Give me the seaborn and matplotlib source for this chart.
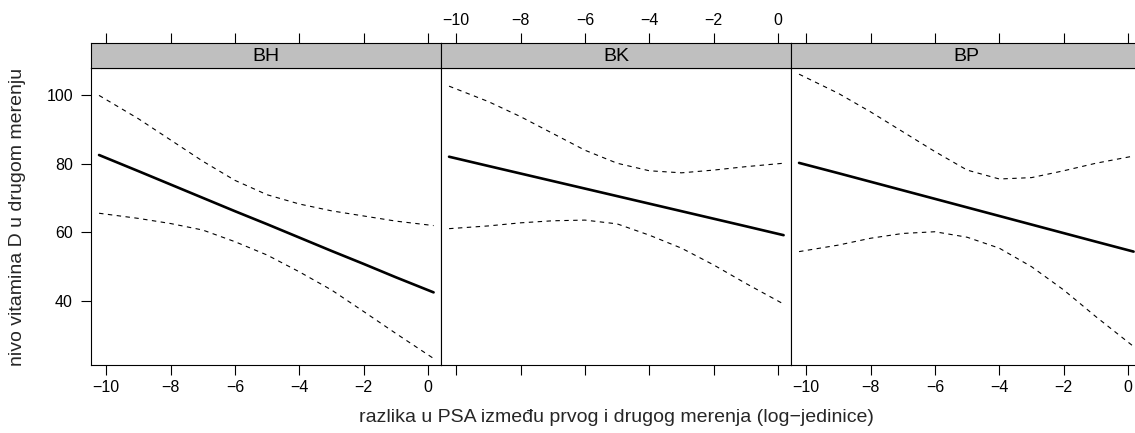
import numpy as np
import pandas as pd
import matplotlib
matplotlib.use("Agg")
import matplotlib.pyplot as plt
import seaborn as sns

sns.set_theme(style="white")
plt.rcParams["font.family"] = ["Liberation Sans", "DejaVu Sans"]

# values
panels = ["BH", "BK", "BP"]
x_vals = [-10.22, -9, -8, -7, -6, -5, -4, -3, -2, -1, 0.17]

fit_bh = [82.6, 77.9, 74.0, 70.1, 66.2, 62.4, 58.5, 54.6, 50.8, 46.9, 42.5]
upper_bh = [100.0, 93.2, 87.0, 80.8, 75.2, 71.0, 68.3, 66.3, 64.8, 63.3, 62.0]
lower_bh = [65.6, 64.1, 62.6, 60.7, 57.3, 53.4, 48.5, 43.2, 36.9, 30.5, 23.2]

fit_bk = [82.1, 79.4, 77.2, 75.0, 72.8, 70.6, 68.4, 66.2, 64.0, 61.8, 59.2]
upper_bk = [102.7, 98.2, 93.8, 88.9, 84.0, 80.2, 78.0, 77.4, 78.2, 79.2, 80.2]
lower_bk = [61.1, 61.9, 62.8, 63.4, 63.6, 62.5, 59.2, 55.4, 50.5, 45.1, 39.1]

fit_bp = [80.3, 77.3, 74.8, 72.3, 69.8, 67.3, 64.8, 62.3, 59.8, 57.3, 54.4]
upper_bp = [106.2, 100.6, 95.2, 89.4, 83.6, 78.2, 75.6, 76.0, 78.0, 80.2, 82.3]
lower_bp = [54.4, 56.3, 58.3, 59.7, 60.2, 58.6, 55.4, 50.0, 43.2, 35.4, 26.7]

x_ticks = [-10, -8, -6, -4, -2, 0]
y_ticks = [40, 60, 80, 100]

curves = {
    "BH": (fit_bh, upper_bh, lower_bh),
    "BK": (fit_bk, upper_bk, lower_bk),
    "BP": (fit_bp, upper_bp, lower_bp),
}

W, H = 1135, 433
fig = plt.figure(figsize=(W / 100, H / 100), dpi=100)

left0, pw = 91, 350
bottom, ph = 68, 297
strip_h = 25
xlim = (-10.47, 0.40)
ylim = (21.3, 108.0)
tick_fs = 11.5

for i, name in enumerate(panels):
    l = left0 + i * pw
    ax = fig.add_axes([l / W, bottom / H, pw / W, ph / H])
    sax = fig.add_axes([l / W, (bottom + ph) / H, pw / W, strip_h / H])

    fit, up, lo = curves[name]
    df = pd.DataFrame({"x": x_vals, "fit": fit, "upper": up, "lower": lo})
    sns.lineplot(data=df, x="x", y="fit", ax=ax, color="black", lw=1.9)
    sns.lineplot(data=df, x="x", y="upper", ax=ax, color="black", lw=0.8,
                 linestyle=(0, (4, 4)))
    sns.lineplot(data=df, x="x", y="lower", ax=ax, color="black", lw=0.8,
                 linestyle=(0, (4, 4)))

    ax.set_xlim(*xlim)
    ax.set_ylim(*ylim)
    ax.set_xlabel("")
    ax.set_ylabel("")
    for sp in ax.spines.values():
        sp.set_color("black")
        sp.set_linewidth(0.8)
    ax.set_xticks(x_ticks)
    ax.tick_params(axis="x", direction="out", length=7, width=0.8,
                   colors="black", labelsize=tick_fs, pad=4)
    ax.tick_params(axis="y", direction="out", length=7, width=0.8,
                   colors="black", labelsize=tick_fs, pad=6)
    ax.xaxis.set_ticks_position("bottom")
    if i == 0:
        ax.set_yticks(y_ticks)
        ax.tick_params(axis="y", left=True)
    else:
        ax.set_yticks([])
    if i == 1:
        ax.set_xticklabels([])

    # strip with top axis
    sax.set_facecolor("#bfbfbf")
    sax.set_xlim(*xlim)
    sax.set_ylim(0, 1)
    sax.set_yticks([])
    for sp in sax.spines.values():
        sp.set_color("black")
        sp.set_linewidth(0.8)
    sax.text(0.5, 0.45, name, transform=sax.transAxes, ha="center",
             va="center", fontsize=14, color="black")
    sax.set_xticks(x_ticks)
    sax.xaxis.set_ticks_position("top")
    sax.tick_params(axis="x", direction="out", length=7, width=0.8,
                    colors="black", labelsize=tick_fs, pad=4)
    if i != 1:
        sax.set_xticklabels([])
    else:
        sax.tick_params(axis="x", labeltop=True, labelbottom=False)

fig.text(18 / W, 0.5, "nivo vitamina D u drugom merenju", rotation=90,
         ha="center", va="center", fontsize=14)
fig.text(616 / W, 16 / H, "razlika u PSA između prvog i drugog merenja (log−jedinice)",
         ha="center", va="center", fontsize=14)

fig.savefig("out.png", dpi=100, facecolor="white")
